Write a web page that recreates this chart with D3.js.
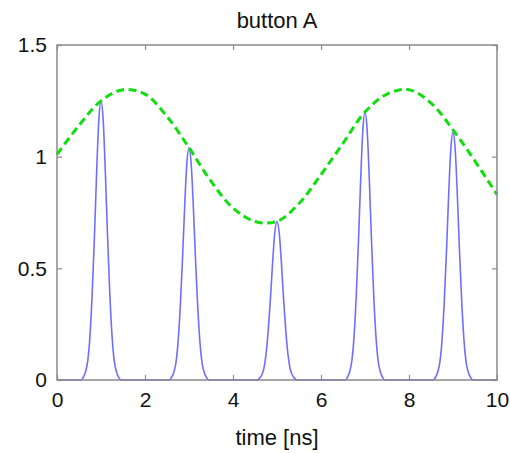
<!DOCTYPE html>
<html>
<head>
<meta charset="utf-8">
<script src="https://cdn.jsdelivr.net/npm/d3@7"></script>
<style>
  body { margin: 0; background: #fff; }
  svg { font-family: "Liberation Sans", Arial, sans-serif; }
</style>
</head>
<body>
<script>
// envelope (green dashed), every 0.5 ns
var envT = [0, 0.5, 1, 1.5, 2, 2.5, 3, 3.5, 4, 4.5, 5, 5.5, 6, 6.5, 7, 7.5, 8, 8.5, 9, 9.5, 10];
var envV = [1.01, 1.14, 1.25, 1.30, 1.28, 1.18, 1.04, 0.89, 0.77, 0.71, 0.71, 0.79, 0.92, 1.06, 1.20, 1.28, 1.30, 1.24, 1.12, 0.98, 0.83];

// pulses (blue): centre and peak height
var pulseT = [1, 3, 5, 7, 9];
var pulseV = [1.25, 1.04, 0.71, 1.20, 1.11];
// relative pulse profile against offset from centre [ns]
var shapeDt = [-0.45, -0.4, -0.35, -0.3, -0.25, -0.2, -0.15, -0.1, -0.05, 0, 0.05, 0.1, 0.15, 0.2, 0.25, 0.3, 0.35, 0.4, 0.45];
var shapeV  = [0, 0.01, 0.03, 0.07, 0.16, 0.31, 0.51, 0.74, 0.93, 1, 0.93, 0.74, 0.51, 0.31, 0.16, 0.07, 0.03, 0.01, 0];

var xTicks = [0, 2, 4, 6, 8, 10];
var yTicks = [0, 0.5, 1, 1.5];

var W = 510, H = 453;
var m = {left: 57, right: 13, top: 45, bottom: 73};

var svg = d3.select("body").append("svg")
  .attr("width", W).attr("height", H);

var x = d3.scaleLinear().domain([0, 10]).range([m.left, W - m.right]);
var y = d3.scaleLinear().domain([0, 1.5]).range([H - m.bottom, m.top]);

// build blue trace: flat zero between pulses
var blue = [[0, 0]];
pulseT.forEach(function(c, i) {
  shapeDt.forEach(function(dt, j) {
    blue.push([c + dt, shapeV[j] * pulseV[i]]);
  });
});
blue.push([10, 0]);

var env = envT.map(function(t, i) { return [t, envV[i]]; });

svg.append("path")
  .datum(blue)
  .attr("fill", "none")
  .attr("stroke", "#6f6fff")
  .attr("stroke-width", 1.6)
  .attr("d", d3.line().x(function(d){return x(d[0]);}).y(function(d){return y(d[1]);}).curve(d3.curveMonotoneX));

svg.append("path")
  .datum(env)
  .attr("fill", "none")
  .attr("stroke", "#11dd11")
  .attr("stroke-width", 3)
  .attr("stroke-dasharray", "8,4.5")
  .attr("d", d3.line().x(function(d){return x(d[0]);}).y(function(d){return y(d[1]);}).curve(d3.curveCatmullRom));

// axes: box with inward ticks
var axCol = "#8a8a8a";
function styleAxis(g) {
  g.select(".domain").remove();
  g.selectAll(".tick line").attr("stroke", axCol).attr("stroke-width", 1.2);
  g.selectAll(".tick text").attr("fill", "#111").attr("font-size", 21);
}

svg.append("g")
  .attr("transform", "translate(0," + (H - m.bottom) + ")")
  .call(d3.axisBottom(x).tickValues(xTicks).tickSize(-5).tickPadding(12).tickFormat(d3.format("d")))
  .call(styleAxis);
svg.append("g")
  .attr("transform", "translate(0," + m.top + ")")
  .call(d3.axisTop(x).tickValues(xTicks).tickSize(-5).tickFormat(""))
  .call(styleAxis);
svg.append("g")
  .attr("transform", "translate(" + m.left + ",0)")
  .call(d3.axisLeft(y).tickValues(yTicks).tickSize(-5).tickPadding(10).tickFormat(function(d){ return d === 0 ? "0" : d3.format("")(d); }))
  .call(styleAxis);
svg.append("g")
  .attr("transform", "translate(" + (W - m.right) + ",0)")
  .call(d3.axisRight(y).tickValues(yTicks).tickSize(-5).tickFormat(""))
  .call(styleAxis);

svg.append("rect")
  .attr("x", m.left).attr("y", m.top)
  .attr("width", W - m.left - m.right).attr("height", H - m.top - m.bottom)
  .attr("fill", "none").attr("stroke", axCol).attr("stroke-width", 1.5);

svg.append("text")
  .attr("x", (m.left + W - m.right) / 2).attr("y", 28)
  .attr("text-anchor", "middle").attr("font-size", 22).attr("fill", "#111")
  .text("button A");

svg.append("text")
  .attr("x", (m.left + W - m.right) / 2).attr("y", 445)
  .attr("text-anchor", "middle").attr("font-size", 22).attr("fill", "#111")
  .text("time [ns]");
</script>
</body>
</html>
